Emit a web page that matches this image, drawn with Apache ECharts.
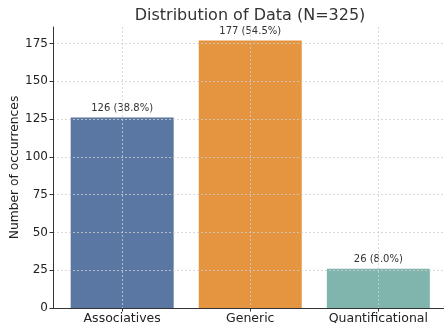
<!DOCTYPE html>
<html>
<head>
<meta charset="utf-8">
<style>
  html, body { margin: 0; padding: 0; background: #fff; }
  #chart { width: 444px; height: 323px; }
</style>
<script src="https://cdn.jsdelivr.net/npm/echarts@6/dist/echarts.min.js"></script>
</head>
<body>
<div id="chart"></div>
<script>
// Category names, counts and bar colours
const categories = ['Associatives', 'Generic', 'Quantificational'];
const counts = [126, 177, 26];
const barColors = ['#5a76a3', '#e5943f', '#80b5ae'];
const yTicks = [0, 25, 50, 75, 100, 125, 150, 175];
const total = 325;

const chart = echarts.init(document.getElementById('chart'));
const font = 'DejaVu Sans';
const gridLine = { show: true, lineStyle: { color: '#d0d0d0', width: 0.8, type: [2, 2] } };

chart.setOption({
  animation: false,
  textStyle: { fontFamily: font },
  title: {
    text: 'Distribution of Data (N=' + total + ')',
    left: 245, top: 3, textAlign: 'center',
    textStyle: { fontFamily: font, fontSize: 16, fontWeight: 'normal', color: '#333' }
  },
  // vertical y-axis title, placed beside the tick labels
  graphic: [{
    type: 'text',
    x: 15, y: 167.5,
    rotation: Math.PI / 2,
    style: {
      text: 'Number of occurrences',
      font: '12.3px "DejaVu Sans"',
      fill: '#222',
      align: 'center',
      verticalAlign: 'middle'
    }
  }],
  grid: {
    left: 53, right: -3.5, top: 27, bottom: 15,
    containLabel: false, outerBoundsMode: 'none'
  },
  xAxis: {
    type: 'value', min: -0.54, max: 2.54, z: 5,
    axisLine: { show: true, onZero: false, lineStyle: { color: '#333', width: 1 } },
    axisTick: { show: true, customValues: [0, 1, 2], length: 3.5, lineStyle: { color: '#333' } },
    axisLabel: {
      customValues: [0, 1, 2], margin: 4,
      formatter: v => categories[Math.round(v)],
      fontFamily: font, fontSize: 12.5, color: '#222'
    },
    splitLine: gridLine
  },
  yAxis: {
    type: 'value', min: 0, max: 185.85, z: 5,
    axisLine: { show: true, onZero: false, lineStyle: { color: '#333', width: 1 } },
    axisTick: { show: true, customValues: yTicks, length: 3.5, lineStyle: { color: '#333' } },
    axisLabel: { customValues: yTicks, margin: 5, fontFamily: font, fontSize: 12, color: '#222' },
    splitLine: gridLine
  },
  series: [{
    type: 'bar',
    barWidth: 103,
    z: 2,
    data: counts.map((c, i) => ({ value: [i, c], itemStyle: { color: barColors[i] } })),
    label: {
      show: true, position: 'top', distance: 4,
      fontFamily: font, fontSize: 10, color: '#333',
      formatter: p => p.value[1] + ' (' + (p.value[1] / total * 100).toFixed(1) + '%)'
    }
  }]
});
</script>
</body>
</html>
